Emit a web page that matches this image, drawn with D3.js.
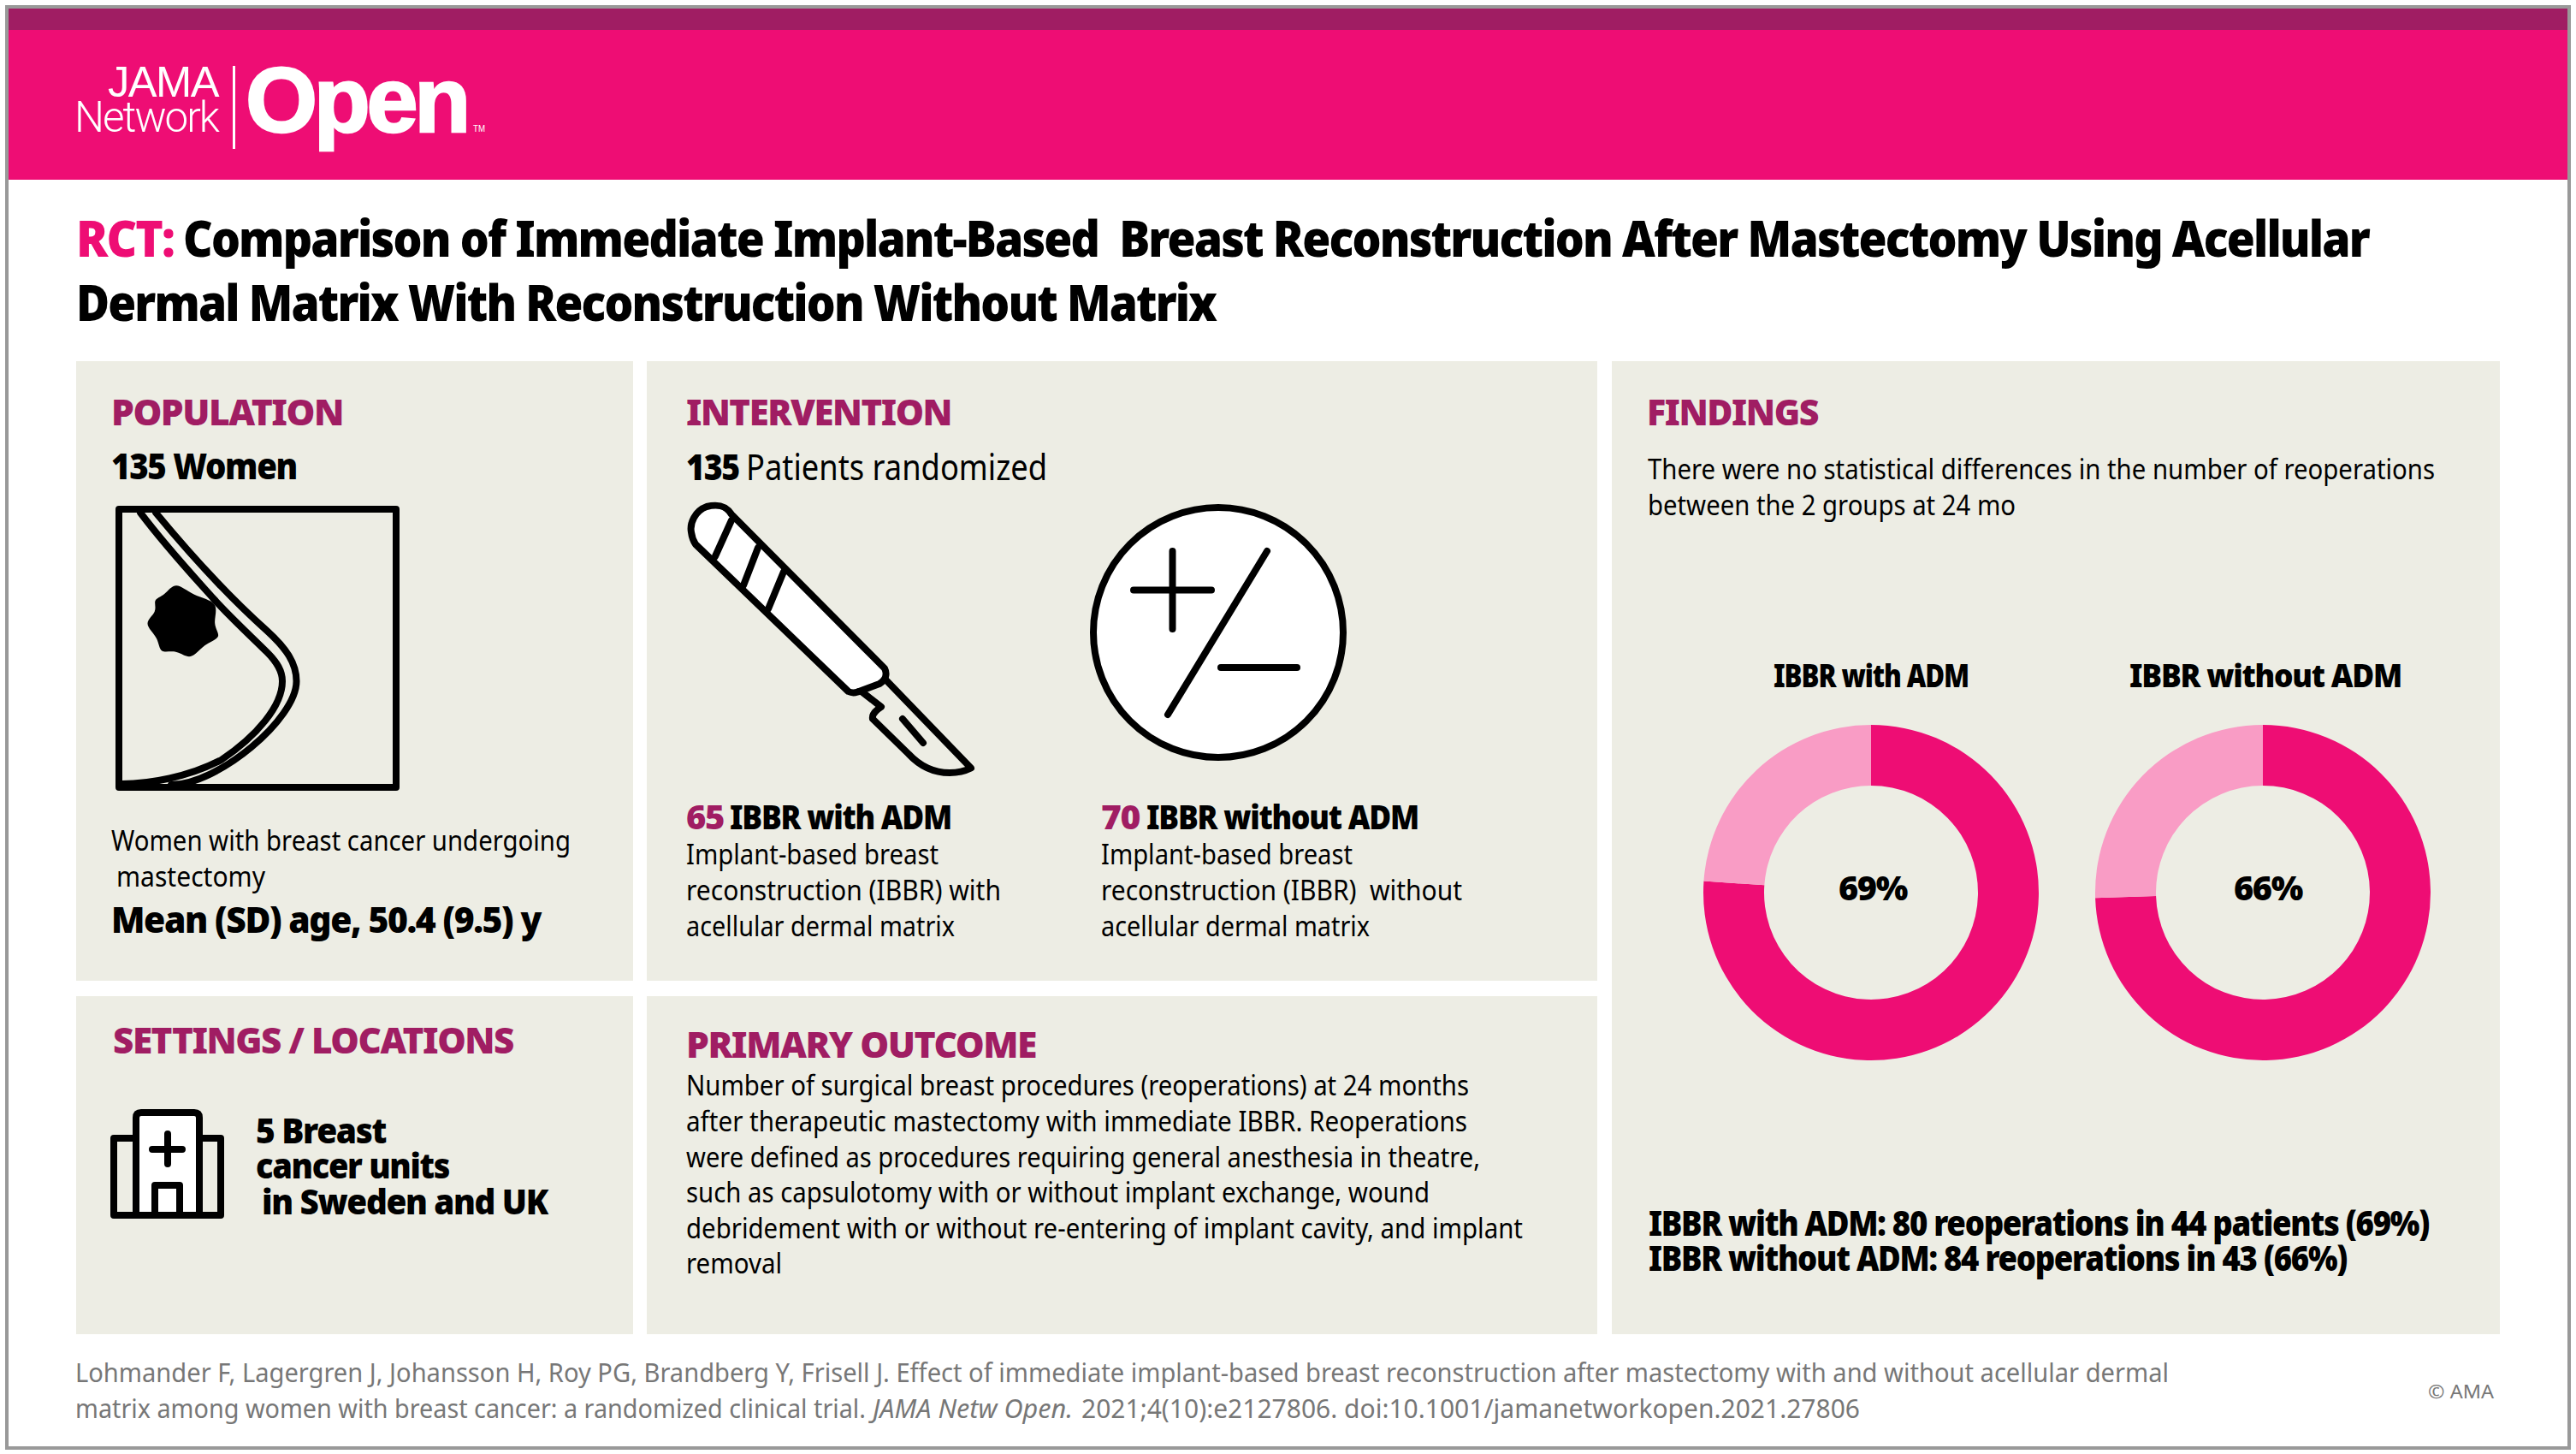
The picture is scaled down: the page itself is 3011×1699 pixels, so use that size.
<!DOCTYPE html>
<html>
<head>
<meta charset="utf-8">
<script src="https://cdn.jsdelivr.net/npm/d3@7"></script>
<style>
  html, body { margin: 0; padding: 0; background: #fff; }
  svg { display: block; }
</style>
</head>
<body>
<svg id="chart" width="3011" height="1699"></svg>
<script>
const arms = ["IBBR with ADM", "IBBR without ADM"];
const armCounts = [65, 70];
const reoperationLabels = ["69%", "66%"];
// the rings in the picture are not drawn at the printed percentages, these are the drawn shares
const drawnShare = [76.1, 74.5];
const restShare = [23.9, 25.5];
const reoperations = [80, 84];
const reoperatedPatients = [44, 43];

const titleLines = [
  "Comparison of Immediate Implant-Based  Breast Reconstruction After Mastectomy Using Acellular",
  "Dermal Matrix With Reconstruction Without Matrix"
];
const populationLines = ["Women with breast cancer undergoing", "mastectomy"];
const armDescription = [
  ["Implant-based breast", "reconstruction (IBBR) with", "acellular dermal matrix"],
  ["Implant-based breast", "reconstruction (IBBR)  without", "acellular dermal matrix"]
];
const outcomeLines = [
  "Number of surgical breast procedures (reoperations) at 24 months",
  "after therapeutic mastectomy with immediate IBBR. Reoperations",
  "were defined as procedures requiring general anesthesia in theatre,",
  "such as capsulotomy with or without implant exchange, wound",
  "debridement with or without re-entering of implant cavity, and implant",
  "removal"
];
const findingLines = [
  "There were no statistical differences in the number of reoperations",
  "between the 2 groups at 24 mo"
];
const settingLines = ["5 Breast", "cancer units", "in Sweden and UK"];
const citationLines = [
  "Lohmander F, Lagergren J, Johansson H, Roy PG, Brandberg Y, Frisell J. Effect of immediate implant-based breast reconstruction after mastectomy with and without acellular dermal",
  "matrix among women with breast cancer: a randomized clinical trial."
];

const pink = "#ee0d74";
const lightPink = "#f99cc5";
const purple = "#a01d63";
const panel = "#edede4";
const sans = "'Noto Sans', sans-serif";
const logoFont = "'Liberation Sans', sans-serif";

const svg = d3.select("#chart");

// text squeezed to the width it has in the picture
function label(str, x, y, right, size, weight, fill, family, style) {
  const t = svg
    .append("text")
    .attr("x", x)
    .attr("y", y)
    .attr("textLength", right - x)
    .attr("lengthAdjust", "spacingAndGlyphs")
    .attr("font-family", family || sans)
    .attr("font-size", size)
    .attr("font-weight", weight)
    .attr("font-style", style || "normal")
    .attr("fill", fill || "#000")
    .style("white-space", "pre")
    .text(str);
  if (weight >= 800) t.style("letter-spacing", "-0.035em");
  return t;
}

function logoText(str, x, y, right, size, weight, spacing, family) {
  return label(str, x, y, right, size, weight, "#fff", family || logoFont).style(
    "letter-spacing",
    spacing
  );
}

function box(x, y, w, h, fill) {
  return svg
    .append("rect")
    .attr("x", x)
    .attr("y", y)
    .attr("width", w)
    .attr("height", h)
    .attr("fill", fill);
}

function icon(d, fill) {
  return svg
    .append("path")
    .attr("d", d)
    .attr("fill", fill || "none")
    .attr("stroke", "#000")
    .attr("stroke-width", 8)
    .attr("stroke-linecap", "round")
    .attr("stroke-linejoin", "round");
}

// frame and header
box(0, 0, 3011, 1699, "#fff");
svg
  .append("rect")
  .attr("x", 8)
  .attr("y", 8)
  .attr("width", 2995)
  .attr("height", 1684)
  .attr("fill", "none")
  .attr("stroke", "#999")
  .attr("stroke-width", 4);
box(10, 10, 2991, 25, purple);
box(10, 35, 2991, 175, pink);

logoText("JAMA", 126, 113, 255, 50, 400, "-0.03em");
logoText("Network", 87, 154, 255, 50, 300, "-0.04em", "Roboto, sans-serif");
box(272, 77, 3, 97, "#fff");
logoText("Open", 287, 154, 546, 108, 700, "-0.04em")
  .attr("stroke", "#fff")
  .attr("stroke-width", 2.5);
logoText("TM", 553, 154, 567, 11, 400, "0");

// title
label("RCT:", 89, 300, 203, 58, 900, pink);
label(titleLines[0], 214, 300, 2769, 58, 900);
label(titleLines[1], 89, 375, 1421, 58, 900);

// panels
box(89, 422, 651, 724, panel);
box(756, 422, 1111, 724, panel);
box(89, 1164, 651, 395, panel);
box(756, 1164, 1111, 395, panel);
box(1884, 422, 1038, 1137, panel);

// population
label("POPULATION", 130, 497, 401, 43, 900, purple);
label("135 Women", 130, 560, 347, 43, 900);
label(populationLines[0], 130, 994, 667, 33, 400);
label(populationLines[1], 136, 1036, 310, 33, 400);
label("Mean (SD) age, 50.4 (9.5) y", 130, 1090, 632, 42, 900);

icon("M139,595H463V920H139Z");
icon("M182,599C220,645 265,695 312,737C335,758 346.5,775 346.5,796C346.5,840 255,917 200,917");
icon("M164,599C195,640 225,672 250,700C270,722 295,745 312,762C324,774 330,784 330,796C330,825 300,860 258.6,888C220,908 175,916 142.5,916");

const tumorPoints = [
  [205, 678], [225, 697], [258, 703], [247, 730], [261, 745],
  [238, 752], [223, 773], [206, 758], [186, 765], [186, 745],
  [166, 728], [185, 715], [178, 700], [192, 697]
];
svg
  .append("path")
  .attr("d", d3.line().curve(d3.curveBasisClosed)(tumorPoints))
  .attr("fill", "#000");

// intervention
label("INTERVENTION", 802, 497, 1112, 43, 900, purple);
label("135", 802, 561, 864, 43, 900);
label("Patients randomized", 872, 561, 1224, 42, 400);

icon("M855,601C848,590 838,589 826,592C812,597 806,612 808,622C809,630 811,633 813,636L991.6,808C998,811 1000,809 1004,808L1028,799C1036,794 1037,787 1034,781Z", "#fff");
icon("M1007,808L1030,826C1024,830 1019,834 1020,840L1062,881C1075,895 1092,903 1110,903C1120,903 1128,901 1135,897.5L1035,794");
icon("M855,608L836,650");
icon("M886,640L869,684");
icon("M916,668L898,711.5");
icon("M1055,840L1079,868");

svg
  .append("circle")
  .attr("cx", 1424)
  .attr("cy", 739)
  .attr("r", 146)
  .attr("fill", "#fff")
  .attr("stroke", "#000")
  .attr("stroke-width", 8);
icon("M1370.5,644V735M1325,689.5H1416");
icon("M1481,644L1365,835");
icon("M1427,780H1516");

const armColumn = d3.scaleOrdinal().domain(arms).range([802, 1287]);
const armCountRight = [846, 1332];
const armNameStart = [853, 1340];
const armNameRight = [1112, 1658];
const armLineRight = [[1097, 1170, 1116], [1581, 1709, 1601]];
arms.forEach(function (arm, i) {
  const x = armColumn(arm);
  label(String(armCounts[i]), x, 969, armCountRight[i], 39, 900, purple);
  label(arm, armNameStart[i], 969, armNameRight[i], 39, 900);
  armDescription[i].forEach(function (line, j) {
    label(line, x, [1010, 1052, 1094][j], armLineRight[i][j], 33, 400);
  });
});

// settings
label("SETTINGS / LOCATIONS", 132, 1231, 600, 43, 900, purple);
icon("M159,1330H133V1420H258V1330H233");
icon("M159,1420V1306Q159,1300 165,1300H227Q233,1300 233,1306V1420Z", "#fff");
icon("M181,1420V1385H210V1420");
icon("M178,1343H213M196,1325V1360");
label(settingLines[0], 299, 1336, 451, 41, 900);
label(settingLines[1], 299, 1377, 525, 41, 900);
label(settingLines[2], 306, 1419, 640, 41, 900);

// primary outcome
label("PRIMARY OUTCOME", 802, 1236, 1211, 43, 900, purple);
const outcomeY = [1280, 1322, 1364, 1405, 1447, 1488];
const outcomeRight = [1717, 1715, 1730, 1671, 1780, 914];
outcomeLines.forEach(function (line, i) {
  label(line, 802, outcomeY[i], outcomeRight[i], 33, 400);
});

// findings
label("FINDINGS", 1925, 497, 2125, 43, 900, purple);
label(findingLines[0], 1926, 560, 2846, 33, 400);
label(findingLines[1], 1926, 602, 2356, 33, 400);

const ringX = d3.scalePoint().domain(arms).range([2187, 2645]);
const ringFill = d3.scaleOrdinal().domain(["reoperated", "rest"]).range([pink, lightPink]);
const pie = d3
  .pie()
  .sort(null)
  .value(function (d) {
    return d.value;
  });
const ringArc = d3.arc().innerRadius(125).outerRadius(196);
const labelSpan = [[2073, 2301], [2489, 2807]];
const percentSpan = [[2149, 2229], [2611, 2691]];

arms.forEach(function (arm, i) {
  const ring = svg
    .append("g")
    .attr("transform", "translate(" + ringX(arm) + ",1043)");
  ring
    .selectAll("path")
    .data(
      pie([
        { key: "reoperated", value: drawnShare[i] },
        { key: "rest", value: restShare[i] }
      ])
    )
    .enter()
    .append("path")
    .attr("d", ringArc)
    .attr("fill", function (d) {
      return ringFill(d.data.key);
    });
  label(arm, labelSpan[i][0], 803, labelSpan[i][1], 37, 900);
  label(reoperationLabels[i], percentSpan[i][0], 1052, percentSpan[i][1], 39, 900);
});

label(arms[0] + ": " + reoperations[0] + " reoperations in " + reoperatedPatients[0] + " patients (" + reoperationLabels[0] + ")", 1927, 1444, 2839, 40, 900);
label(arms[1] + ": " + reoperations[1] + " reoperations in " + reoperatedPatients[1] + " (" + reoperationLabels[1] + ")", 1927, 1485, 2743, 40, 900);

// citation
label(citationLines[0], 88, 1615, 2535, 31, 400, "#777");
label(citationLines[1], 88, 1657, 1012, 30, 400, "#777");
label("JAMA Netw Open.", 1020, 1657, 1254, 30, 400, "#777", sans, "italic");
label("2021;4(10):e2127806. doi:10.1001/jamanetworkopen.2021.27806", 1264, 1657, 2174, 30, 400, "#777");
label("© AMA", 2838, 1634, 2915, 22, 400, "#777");
</script>
</body>
</html>
